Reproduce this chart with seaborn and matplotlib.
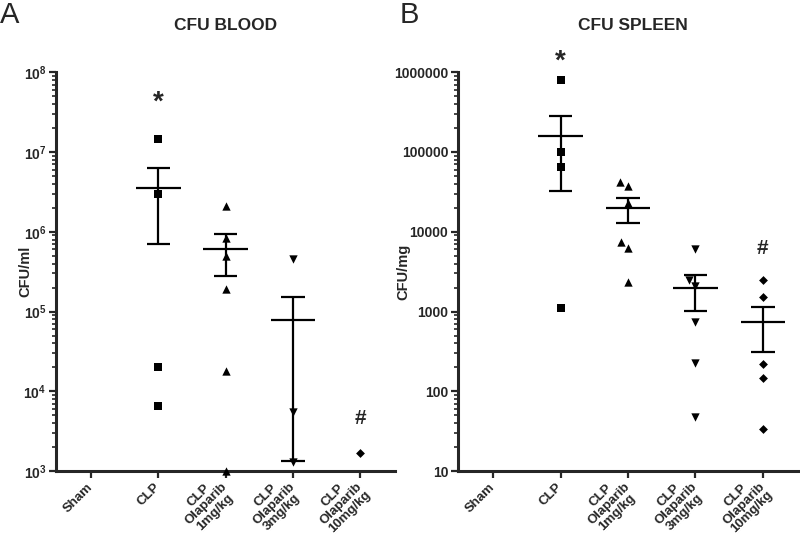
import numpy as np
import pandas as pd
import matplotlib
matplotlib.use("Agg")
import matplotlib.pyplot as plt
import seaborn as sns
from matplotlib.ticker import LogLocator, FuncFormatter, NullFormatter

sns.set_style("ticks")
plt.rcParams["font.family"] = ["Liberation Sans", "DejaVu Sans"]
plt.rcParams["font.weight"] = "bold"
plt.rcParams["mathtext.fontset"] = "custom"
plt.rcParams["mathtext.bf"] = "Liberation Sans:bold"
plt.rcParams["mathtext.rm"] = "Liberation Sans:bold"

groups = ["Sham", "CLP", "CLP\nOlaparib\n1mg/kg", "CLP\nOlaparib\n3mg/kg", "CLP\nOlaparib\n10mg/kg"]
markers = ["o", "s", "^", "v", "D"]
msizes = [5, 5.5, 6, 6, 4.5]

# CFU blood (CFU/ml), 0 = no growth (not visible on log axis)
blood_sham = [0, 0, 0, 0, 0]
blood_clp = [1.45e7, 3.0e6, 2.0e4, 6.5e3, 0]
blood_ola1 = [2.1e6, 8.4e5, 4.9e5, 1.94e5, 1.8e4, 1.0e3]
blood_ola3 = [4.6e5, 5.5e3, 1.3e3, 0, 0, 0]
blood_ola10 = [1.7e3, 0, 0, 0, 0, 0]

# CFU spleen (CFU/mg)
spleen_sham = [0, 0, 0, 0, 0]
spleen_clp = [7.9e5, 1.0e5, 6.5e4, 1.1e3, 0, 0]
spleen_ola1 = [4.2e4, 3.8e4, 2.3e4, 7.4e3, 6.3e3, 2.36e3]
spleen_ola3 = [6.1e3, 2.5e3, 2.1e3, 750, 224, 47]
spleen_ola10 = [2.5e3, 1.5e3, 218, 145, 34, 0]


def panel(ax, values, ylim, ylabel, fmt):
    df = pd.DataFrame({"group": np.repeat(groups, [len(v) for v in values]),
                       "cfu": np.concatenate(values)})
    ax.set_yscale("log")
    ax.set_ylim(*ylim)
    for g, m, s in zip(groups, markers, msizes):
        sub = df[(df.group == g) & (df.cfu > 0)]
        if len(sub):
            sns.swarmplot(data=sub, x="group", y="cfu", order=groups, marker=m,
                          color="black", size=s, linewidth=0, clip_on=False, ax=ax)
    st = df.groupby("group", sort=False)["cfu"].agg(["mean", "sem"]).reindex(groups)
    for i, (mean, sem) in enumerate(zip(st["mean"], st["sem"])):
        if mean < ylim[0]:
            continue
        lo = max(mean - sem, ylim[0] * 0.5)
        ax.vlines(i, lo, mean + sem, color="black", lw=1.6)
        ax.hlines([lo, mean + sem], i - 0.175, i + 0.175, color="black", lw=1.6)
        ax.hlines(mean, i - 0.33, i + 0.33, color="black", lw=1.6)
    ax.set_xlim(-0.52, 4.52)
    ax.set_xlabel("")
    ax.set_ylabel(ylabel, fontsize=10.5, fontweight="bold")
    ax.yaxis.set_major_locator(LogLocator(base=10, numticks=20))
    ax.yaxis.set_minor_locator(LogLocator(base=10, subs=np.arange(2, 10), numticks=20))
    ax.yaxis.set_major_formatter(FuncFormatter(fmt))
    ax.yaxis.set_minor_formatter(NullFormatter())
    ax.set_xticks(range(len(groups)))
    ax.set_xticklabels(groups, rotation=45, ha="right", va="center",
                       rotation_mode="anchor", multialignment="center",
                       fontsize=9.5, fontweight="bold", linespacing=0.95)
    ax.tick_params(axis="y", labelsize=10)
    ax.tick_params(axis="both", which="major", length=5, width=1.6, pad=2)
    ax.tick_params(axis="x", pad=5)
    ax.tick_params(axis="y", which="minor", length=3, width=1.2)
    sns.despine(ax=ax)
    for sp in ["left", "bottom"]:
        ax.spines[sp].set_linewidth(2.2)


fig = plt.figure(figsize=(8, 5.39), dpi=100)
axA = fig.add_axes([0.07, 0.126, 0.424, 0.74])
axB = fig.add_axes([0.5725, 0.126, 0.425, 0.74])

panel(axA, [blood_sham, blood_clp, blood_ola1, blood_ola3, blood_ola10], (1e3, 1e8),
      "CFU/ml", lambda v, p: r"$\mathbf{10^{%d}}$" % round(np.log10(v)))
panel(axB, [spleen_sham, spleen_clp, spleen_ola1, spleen_ola3, spleen_ola10], (10, 1e6),
      "CFU/mg", lambda v, p: "%d" % v)
axA.yaxis.set_label_coords(-0.07, 0.5)
axB.yaxis.set_label_coords(-0.14, 0.5)

axA.text(1, 4.2e7, "*", ha="center", va="center", fontsize=20, fontweight="bold")
axA.text(4, 4.6e3, "#", ha="center", va="center", fontsize=15, fontweight="bold")
axB.text(1, 1.35e6, "*", ha="center", va="center", fontsize=20, fontweight="bold", clip_on=False)
axB.text(4, 6.2e3, "#", ha="center", va="center", fontsize=15, fontweight="bold")

fig.text(226 / 800, 1 - 25 / 539, "CFU BLOOD", ha="center", va="center", fontsize=12.5, fontweight="bold")
fig.text(633 / 800, 1 - 25 / 539, "CFU SPLEEN", ha="center", va="center", fontsize=12.5, fontweight="bold")
fig.text(0.0, 1 - 15 / 539, "A", ha="left", va="center", fontsize=21, fontweight="normal")
fig.text(0.5, 1 - 15 / 539, "B", ha="left", va="center", fontsize=21, fontweight="normal")

fig.savefig("out.png", dpi=100)
